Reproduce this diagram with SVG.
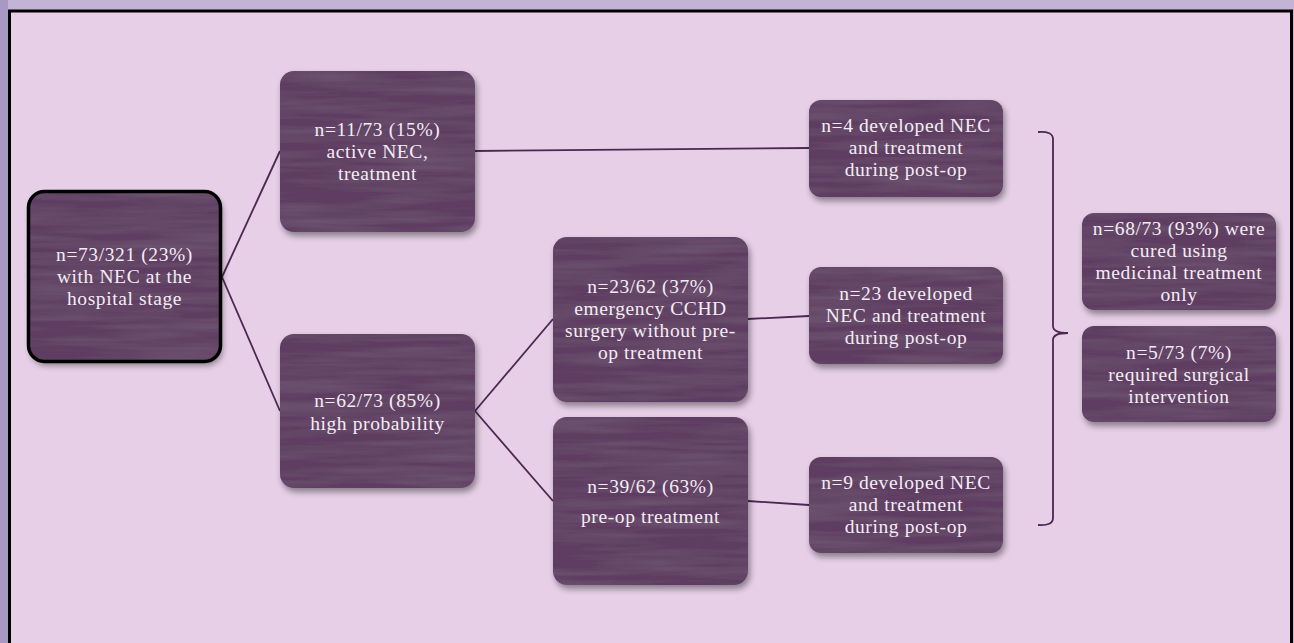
<svg xmlns="http://www.w3.org/2000/svg" width="1294" height="643" viewBox="0 0 1294 643">
<defs>
<style>
.node{fill:#5e3c62;}
.t{font-family:"Liberation Serif","Times New Roman",serif;font-size:19.5px;letter-spacing:0.6px;fill:#f4edf4;text-anchor:middle;}
.c{fill:none;stroke:#4b2751;stroke-width:1.8;}
</style>
<filter id="tex" x="-10%" y="-10%" width="130%" height="130%">
<feTurbulence type="fractalNoise" baseFrequency="0.008 0.12" numOctaves="3" seed="4" result="noise"/>
<feColorMatrix in="noise" type="matrix" values="0 0 0 0 1  0 0 0 0 1  0 0 0 0 1  0.08 0 0 0 -0.025" result="light"/>
<feComposite in="light" in2="SourceAlpha" operator="in" result="tx"/>
<feGaussianBlur in="SourceAlpha" stdDeviation="3" result="b"/>
<feOffset in="b" dx="2" dy="4" result="o"/>
<feComponentTransfer in="o" result="sh"><feFuncA type="linear" slope="0.4"/></feComponentTransfer>
<feMerge><feMergeNode in="sh"/><feMergeNode in="SourceGraphic"/><feMergeNode in="tx"/></feMerge>
</filter>
</defs>
<rect x="0" y="0" width="1294" height="643" fill="#c3b3d7"/>
<rect x="0" y="0" width="8" height="643" fill="#a999c2"/>
<rect x="9.5" y="11" width="1282" height="640" fill="#e6cfe7" stroke="#000" stroke-width="3"/>

<g id="connectors">
<line class="c" x1="222" y1="277" x2="280" y2="151"/>
<line class="c" x1="222" y1="277" x2="280" y2="411"/>
<line class="c" x1="475" y1="151" x2="809" y2="148"/>
<line class="c" x1="475" y1="411" x2="553" y2="319"/>
<line class="c" x1="475" y1="411" x2="553" y2="501"/>
<line class="c" x1="748" y1="319" x2="809" y2="316"/>
<line class="c" x1="748" y1="501" x2="809" y2="505"/>
<path class="c" stroke-width="2" d="M1038,132 Q1053,131 1053,139 L1053,326 Q1053,333 1068,333 Q1053,333 1053,340 L1053,518 Q1053,526 1038,525"/>
</g>

<g id="root">
<rect class="node" filter="url(#tex)" x="28.5" y="191.5" width="192" height="170" rx="16"/>
<rect x="28.5" y="191.5" width="192" height="170" rx="16" fill="none" stroke="#000" stroke-width="3.5"/>
<text class="t" x="124.5" y="261">n=73/321 (23%)</text>
<text class="t" x="124.5" y="283">with NEC at the</text>
<text class="t" x="124.5" y="305">hospital stage</text>
</g>

<g id="active">
<rect class="node" filter="url(#tex)" x="280" y="71" width="195" height="161" rx="14"/>
<text class="t" x="377.5" y="136">n=11/73 (15%)</text>
<text class="t" x="377.5" y="158">active NEC,</text>
<text class="t" x="377.5" y="180">treatment</text>
</g>

<g id="high">
<rect class="node" filter="url(#tex)" x="280" y="334" width="195" height="154" rx="14"/>
<text class="t" x="377.5" y="407">n=62/73 (85%)</text>
<text class="t" x="377.5" y="430">high probability</text>
</g>

<g id="emergency">
<rect class="node" filter="url(#tex)" x="553" y="237" width="195" height="165" rx="14"/>
<text class="t" x="650.5" y="293">n=23/62 (37%)</text>
<text class="t" x="650.5" y="315">emergency CCHD</text>
<text class="t" x="650.5" y="337">surgery without pre-</text>
<text class="t" x="650.5" y="359">op treatment</text>
</g>

<g id="preop">
<rect class="node" filter="url(#tex)" x="553" y="417" width="195" height="168" rx="14"/>
<text class="t" x="650.5" y="493">n=39/62 (63%)</text>
<text class="t" x="650.5" y="523">pre-op treatment</text>
</g>

<g id="dev4">
<rect class="node" filter="url(#tex)" x="809" y="100" width="194" height="97" rx="12"/>
<text class="t" x="906" y="132">n=4 developed NEC</text>
<text class="t" x="906" y="154">and treatment</text>
<text class="t" x="906" y="176">during post-op</text>
</g>

<g id="dev23">
<rect class="node" filter="url(#tex)" x="809" y="267" width="194" height="97" rx="12"/>
<text class="t" x="906" y="300">n=23 developed</text>
<text class="t" x="906" y="322">NEC and treatment</text>
<text class="t" x="906" y="344">during post-op</text>
</g>

<g id="dev9">
<rect class="node" filter="url(#tex)" x="809" y="457" width="194" height="96" rx="12"/>
<text class="t" x="906" y="489">n=9 developed NEC</text>
<text class="t" x="906" y="511">and treatment</text>
<text class="t" x="906" y="533">during post-op</text>
</g>

<g id="cured">
<rect class="node" filter="url(#tex)" x="1082" y="213" width="194" height="97" rx="12"/>
<text class="t" x="1179" y="235">n=68/73 (93%) were</text>
<text class="t" x="1179" y="257">cured using</text>
<text class="t" x="1179" y="279">medicinal treatment</text>
<text class="t" x="1179" y="301">only</text>
</g>

<g id="surgical">
<rect class="node" filter="url(#tex)" x="1082" y="326" width="194" height="96" rx="12"/>
<text class="t" x="1179" y="359">n=5/73 (7%)</text>
<text class="t" x="1179" y="381">required surgical</text>
<text class="t" x="1179" y="403">intervention</text>
</g>
</svg>
